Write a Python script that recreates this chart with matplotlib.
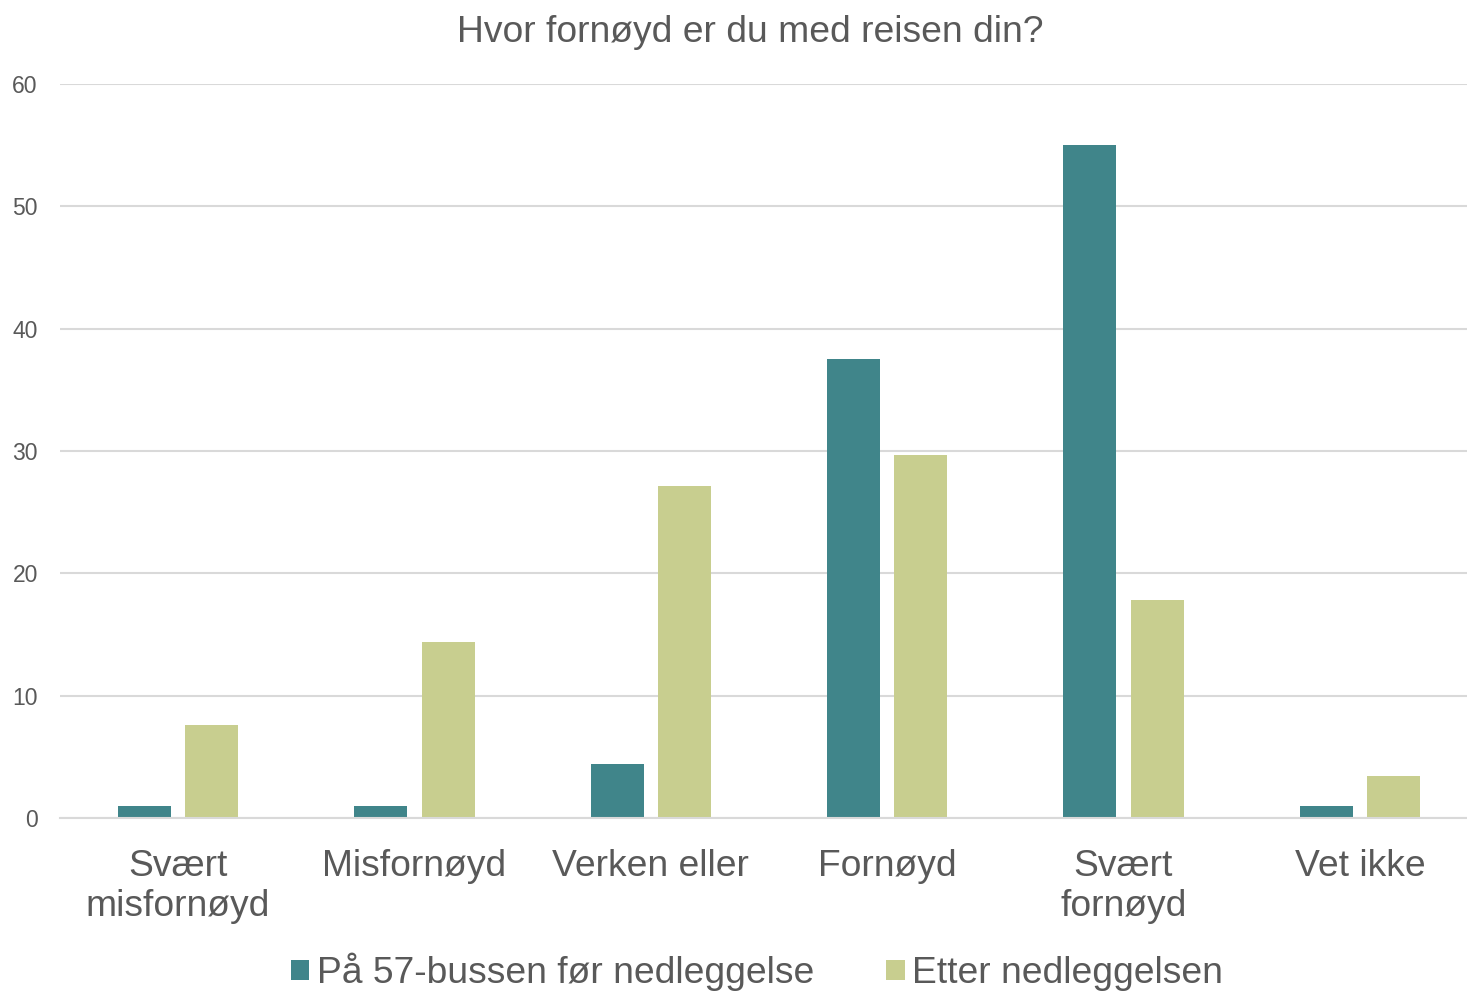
import numpy as np
import matplotlib.pyplot as plt

plt.rcParams["font.family"] = ["Liberation Sans", "DejaVu Sans"]

categories = ["Svært\nmisfornøyd", "Misfornøyd", "Verken eller", "Fornøyd", "Svært\nfornøyd", "Vet ikke"]
before = [1.0, 1.0, 4.4, 37.5, 55.0, 1.0]
after = [7.6, 14.4, 27.1, 29.7, 17.8, 3.4]
series_names = ["På 57-bussen før nedleggelse", "Etter nedleggelsen"]
yticks = [0, 10, 20, 30, 40, 50, 60]

TEXT = "#595959"
GRID = "#D9D9D9"

fig = plt.figure(figsize=(14.67, 9.92), dpi=100)
# plot area runs a little past the right edge, like the original
ax = fig.add_axes([60 / 1467, 1 - 818 / 992, (1478 - 60) / 1467, (818 - 84) / 992])

x = np.arange(len(categories))
w = 0.224
b1 = ax.bar(x - 0.142, before, w, color="#40858A", zorder=3, label=series_names[0])
b2 = ax.bar(x + 0.142, after, w, color="#C8CE8F", zorder=3, label=series_names[1])

ax.set_xlim(-0.5, len(categories) - 0.5)
ax.set_ylim(0, 60)
ax.set_yticks(yticks)
ax.set_xticks(x)
ax.set_xticklabels(categories, fontsize=26.8, color=TEXT, linespacing=1.22)
ax.tick_params(axis="x", length=0, pad=22)
ax.tick_params(axis="y", length=0, pad=16, labelsize=16.5, labelcolor=TEXT)
ax.yaxis.grid(True, color=GRID, linewidth=1.5, zorder=0)
for s in ["top", "left", "right"]:
    ax.spines[s].set_visible(False)
ax.spines["bottom"].set_color(GRID)
ax.spines["bottom"].set_linewidth(1.5)
ax.spines["bottom"].set_zorder(4)

fig.text(750 / 1467, 1 - 33 / 992, "Hvor fornøyd er du med reisen din?", ha="center", va="center",
         fontsize=26.8, color=TEXT)

leg = fig.legend(handles=[b1, b2], loc="center", bbox_to_anchor=(757 / 1467, 1 - 972 / 992), ncol=2,
                 frameon=False, fontsize=26.8, handlelength=0.49, handleheight=0.49,
                 handletextpad=0.2, columnspacing=1.95, borderpad=0)
for t in leg.get_texts():
    t.set_color(TEXT)

fig.savefig("out.png", dpi=100)
